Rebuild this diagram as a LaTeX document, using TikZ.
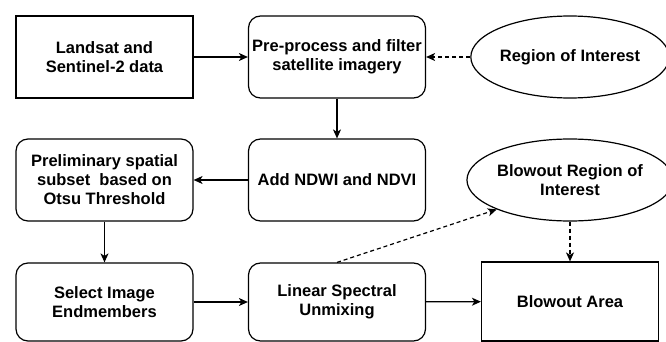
\documentclass[tikz,border=0pt]{standalone}
\usepackage{fontspec}
\setmainfont{Liberation Sans}
\usetikzlibrary{shapes.geometric,arrows.meta}
\begin{document}
\begin{tikzpicture}[x=1pt,y=-1pt,
  every node/.style={font=\fontsize{16.5}{19}\selectfont\bfseries, align=center, inner sep=0pt, line width=1.2pt},
  sqbox/.style={draw, minimum width=177pt, minimum height=82pt},
  rbox/.style={draw, rounded corners=12pt, minimum width=177pt, minimum height=82pt},
  oval/.style={draw, ellipse, minimum width=178pt, minimum height=82pt},
  flow/.style={line width=1.2pt, -{Stealth[length=9pt, width=8pt, inset=2.5pt]}},
  link/.style={flow, dash pattern=on 4pt off 3pt}
]
\useasboundingbox (0,0) rectangle (666,342);

% top row
\node[sqbox] (land) at (104.5,57) {Landsat and\\Sentinel-2 data};
\node[rbox]  (pre)  at (337,57)   {Pre-process and filter\\satellite imagery};
\node[oval]  (roi)  at (570,57)   {Region of Interest};

% middle row
\node[rbox]  (prel) at (104.5,180) {Preliminary spatial\\subset\ \ based on\\Otsu Threshold};
\node[rbox]  (ndwi) at (337,180)   {Add NDWI and NDVI};
\node[oval]  (broi) at (570,180)   {Blowout Region of\\Interest};

% bottom row
\node[rbox, minimum height=78pt]  (sel)  at (104.5,302) {Select Image\\Endmembers};
\node[rbox, minimum height=78pt]  (lin)  at (337,302)   {Linear Spectral\\Unmixing};
\node[sqbox, minimum height=79pt] (area) at (570,301.5) {Blowout Area};

% connectors
\draw[flow] (land) -- (pre);
\draw[link] (roi) -- (pre);
\draw[flow] (pre) -- (ndwi);
\draw[flow] (ndwi) -- (prel);
\draw[flow] (prel) -- (sel);
\draw[flow] (sel) -- (lin);
\draw[flow] (lin) -- (area);
\draw[link] (lin.north) -- (broi.south west);
\draw[link] (broi) -- (area);
\end{tikzpicture}
\end{document}
